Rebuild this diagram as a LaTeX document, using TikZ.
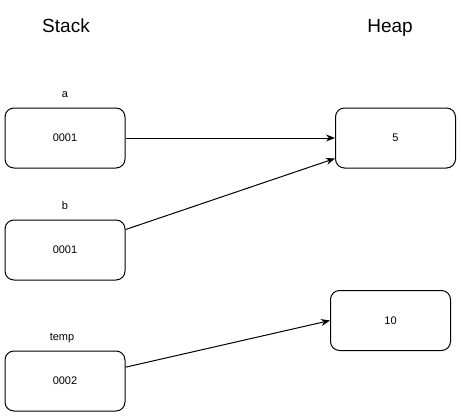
\documentclass[tikz,border=0pt]{standalone}
\usepackage{fontspec}
\setmainfont{Liberation Sans}
\usetikzlibrary{arrows.meta}
\tikzset{
  cell/.style={draw, line width=1pt, rounded corners=9pt, minimum width=120pt,
    minimum height=60pt, inner sep=0pt, font=\fontsize{11}{13}\selectfont},
  varlabel/.style={font=\fontsize{11}{13}\selectfont, inner sep=0pt},
  headtitle/.style={font=\fontsize{19}{22}\selectfont, inner sep=0pt},
  ptr/.style={-{Stealth[length=9pt,width=7pt]}, line width=1pt}
}
\begin{document}
\begin{tikzpicture}[x=1pt, y=-1pt]
    \useasboundingbox (0,0) rectangle (461,416);

    % Titles
    \node[headtitle, anchor=base] (stack) at (66,32) {Stack};
    \node[headtitle, anchor=base] (heap) at (390,32) {Heap};

    % Stack cells
    \node[cell] (a) at (65,138) {0001};
    \node[cell] (b) at (65,250) {0001};
    \node[cell] (temp) at (65,381) {0002};
    \node[varlabel, anchor=base] (aname) at (65,97) {a};
    \node[varlabel, anchor=base] (bname) at (65,209) {b};
    \node[varlabel, anchor=base] (tempname) at (62,340) {temp};

    % Heap cells
    \node[cell] (five) at (395.5,138) {5};
    \node[cell] (ten) at (390.5,320.5) {10};

    % References
    \draw[ptr] (a) -- (five);
    \draw[ptr] (b) -- (five);
    \draw[ptr] (temp) -- (ten.west);
\end{tikzpicture}
\end{document}
